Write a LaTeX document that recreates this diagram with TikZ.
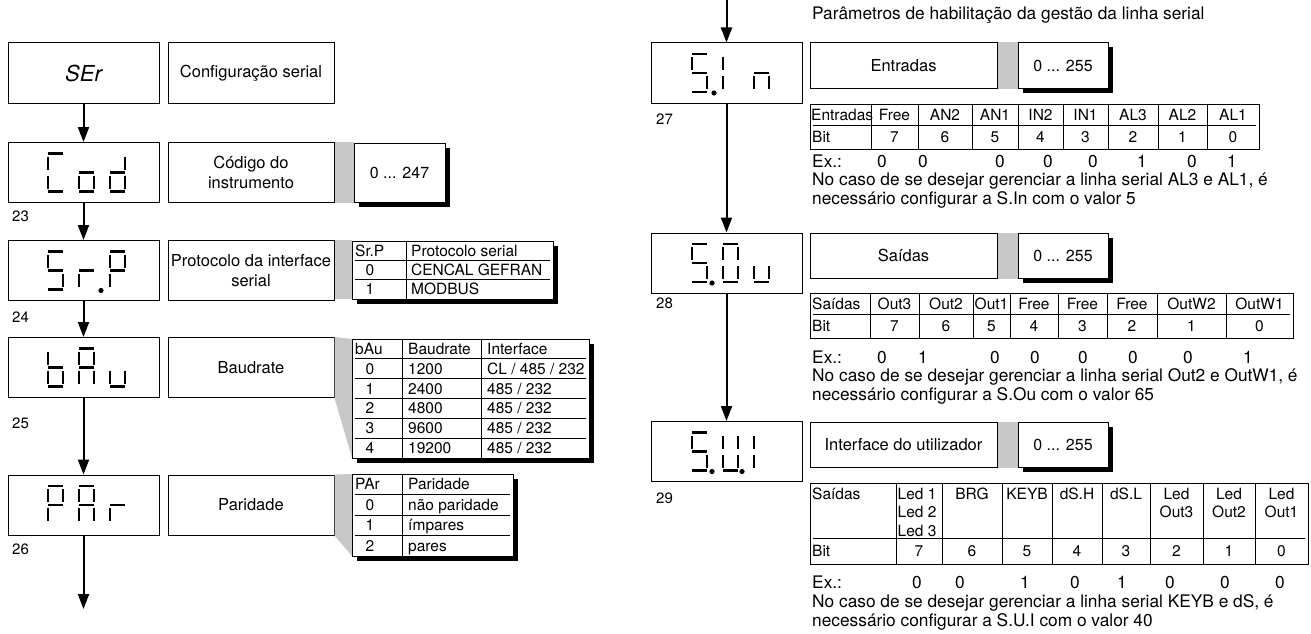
\documentclass[tikz,border=0pt]{standalone}
\usepackage{fontspec}
\setmainfont{TeX Gyre Heros}
\usetikzlibrary{arrows.meta, positioning, shadows}
\definecolor{linkgray}{HTML}{C8C8C8}
\newcommand{\basefont}{\fontsize{15.5}{19}\selectfont}
\newcommand{\descfont}{\fontsize{16.5}{20}\selectfont}
\newcommand{\notefont}{\fontsize{17.3}{20}\selectfont}
\newcommand{\serfont}{\fontsize{22}{26}\selectfont\itshape}
% seven segment display, origin = top left of the digit
\newcommand{\segA}[2]{\draw[seg] (#1,#2) -- (#1+15,#2);}
\newcommand{\segB}[2]{\draw[seg] (#1+15,#2+3) -- (#1+15,#2+16);}
\newcommand{\segC}[2]{\draw[seg] (#1+15,#2+22) -- (#1+15,#2+35);}
\newcommand{\segD}[2]{\draw[seg] (#1,#2+38) -- (#1+15,#2+38);}
\newcommand{\segE}[2]{\draw[seg] (#1,#2+22) -- (#1,#2+35);}
\newcommand{\segF}[2]{\draw[seg] (#1,#2+3) -- (#1,#2+16);}
\newcommand{\segG}[2]{\draw[seg] (#1,#2+19) -- (#1+15,#2+19);}
\newcommand{\segDot}[2]{\fill (#1+22,#2+39) circle[radius=2.6pt];}
\newcommand{\glyph}[3]{\foreach \s in {#3}{\csname seg\s\endcsname{#1}{#2}}}
\tikzset{
  disp/.style={rectangle, draw, line width=1pt, minimum width=151pt, minimum height=60pt, inner sep=0pt},
  desc/.style={rectangle, draw, line width=1pt, align=center, font=\descfont, minimum width=166pt, minimum height=60pt, inner sep=2pt},
  rdesc/.style={desc, minimum width=187pt, minimum height=45pt},
  tabshadow/.style={drop shadow={shadow xshift=4.5pt, shadow yshift=-4.5pt, opacity=1, fill=black}},
  valbox/.style={rectangle, draw, fill=white, line width=1pt, font=\fontsize{16}{19}\selectfont, minimum width=91pt, minimum height=59pt, tabshadow},
  rval/.style={valbox, minimum width=90pt, minimum height=45pt},
  txt/.style={inner sep=0pt, font=\basefont, text height=11.5pt, text depth=0.5pt},
  note/.style={txt, anchor=west, font=\notefont},
  hcell/.style={inner sep=0pt, font=\fontsize{15.5}{18.5}\selectfont, align=center, anchor=north},
  num/.style={txt, anchor=west, font=\fontsize{15}{18}\selectfont},
  tabline/.style={line width=0.9pt},
  link/.style={fill=linkgray},
  flow/.style={line width=2pt, -{Triangle[length=15pt, width=11pt]}},
  seg/.style={line width=2.6pt},
}
\begin{document}
\begin{tikzpicture}[x=1pt, y=-1pt]
\useasboundingbox (0,0) rectangle (1311,634);

% ---- left column
\node[disp, font=\serfont] (ser) at (83.5,73) {SEr};
\node[desc, right=8pt of ser] (serdesc) {Configuração serial};

\node[disp] (cod) at (83.5,172.5) {};
\glyph{48}{153.5}{A,F,E,D}
\glyph{79}{153.5}{G,E,C,D}
\glyph{110}{153.5}{B,G,E,C,D}
\node[desc, right=8pt of cod] (coddesc) {Código do\\instrumento};
\node[valbox, right=19pt of coddesc] (codval) {0 ... 247};
\fill[link] (coddesc.north east) rectangle (codval.south west);
\node[num] (l23) at (12,216) {23};

\node[disp] (srp) at (83.5,270.5) {};
\glyph{48}{251.5}{A,F,G,C,D}
\glyph{79}{251.5}{G,E}
\segDot{79}{251.5}
\glyph{110}{251.5}{A,B,F,G,E}
\node[desc, right=8pt of srp] (srpdesc) {Protocolo da interface\\serial};
\node[num] (l24) at (12,317) {24};
\fill[link] (srpdesc.north east) rectangle (352,299);
\draw[tabline, fill=white, tabshadow] (352,241) rectangle (553,299);
\draw[tabline] (406,241) -- (406,299);
\foreach \y in {260.3,279.7} \draw[tabline] (355,\y) -- (550,\y);
\node[txt, anchor=west] (srp-h1) at (355,250.7) {Sr.P};
\node[txt, anchor=west] (srp-h2) at (411,250.7) {Protocolo serial};
\foreach \a/\b/\y in {0/CENCAL GEFRAN/270, 1/MODBUS/289.3}{
  \node[txt] (srp-a\a) at (370,\y) {\a};
  \node[txt, anchor=west] (srp-b\a) at (411,\y) {\b};
}

\node[disp] (bau) at (83.5,367.5) {};
\glyph{48}{348.5}{F,E,G,C,D}
\glyph{79}{348.5}{A,B,C,E,F,G}
\glyph{110}{348.5}{C,D,E}
\node[desc, right=8pt of bau] (baudesc) {Baudrate};
\node[num] (l25) at (12,423) {25};
\coordinate (bautab) at (352,339);
\coordinate (bautabs) at (352,458);
\fill[link] (baudesc.north east) -- (bautab) -- (bautabs) -- (baudesc.south east) -- cycle;
\draw[tabline, fill=white, tabshadow] (bautab) rectangle (589,458);
\foreach \x in {402,481} \draw[tabline] (\x,339) -- (\x,458);
\foreach \y in {358.8,378.6,398.4,418.2,438} \draw[tabline] (355,\y) -- (586,\y);
\node[txt, anchor=west] (bau-h1) at (355,348.9) {bAu};
\node[txt, anchor=west] (bau-h2) at (408,348.9) {Baudrate};
\node[txt, anchor=west] (bau-h3) at (487,348.9) {Interface};
\foreach \r/\y in {0/368.7,1/388.5,2/408.3,3/428.1,4/447.9} \node[txt] (bau-a\r) at (370,\y) {\r};
\foreach \v [count=\i] in {1200,2400,4800,9600,19200} \node[txt, anchor=west] (bau-b\i) at (408,348.9+19.8*\i) {\v};
\foreach \v [count=\i] in {CL / 485 / 232,485 / 232,485 / 232,485 / 232,485 / 232} \node[txt, anchor=west] (bau-c\i) at (487,348.9+19.8*\i) {\v};

\node[disp] (par) at (83.5,505) {};
\glyph{48}{486}{A,B,F,G,E}
\glyph{79}{486}{A,B,C,E,F,G}
\glyph{110}{486}{G,E}
\node[desc, right=8pt of par] (pardesc) {Paridade};
\node[num] (l26) at (12,549) {26};
\coordinate (partab) at (352,474);
\coordinate (partabs) at (352,556);
\fill[link] (pardesc.north east) -- (partab) -- (partabs) -- (pardesc.south east) -- cycle;
\draw[tabline, fill=white, tabshadow] (partab) rectangle (513,556);
\draw[tabline] (402,474) -- (402,556);
\foreach \y in {494.5,515,535.5} \draw[tabline] (355,\y) -- (510,\y);
\node[txt, anchor=west] (par-h1) at (355,484.2) {PAr};
\node[txt, anchor=west] (par-h2) at (408,484.2) {Paridade};
\foreach \a/\b/\y in {0/não paridade/504.7, 1/ímpares/525.2, 2/pares/545.7}{
  \node[txt] (par-a\a) at (370,\y) {\a};
  \node[txt, anchor=west] (par-b\a) at (408,\y) {\b};
}

\coordinate (leftend) at (83.5,609);
\draw[flow] (ser) -- (cod);
\draw[flow] (cod) -- (srp);
\draw[flow] (srp) -- (bau);
\draw[flow] (bau) -- (par);
\draw[flow] (par) -- (leftend);

% ---- right column
\node[note] (title) at (812,14) {Parâmetros de habilitação da gestão da linha serial};

\node[disp] (sin) at (726.5,73) {};
\glyph{692}{54}{A,F,G,C,D}
\segDot{692}{54}
\glyph{723}{54}{F,E}
\glyph{754}{54}{G,E,C}
\node[rdesc] (sindesc) at (903.5,65.5) {Entradas};
\node[rval] (sinval) at (1063,65.5) {0 ... 255};
\fill[link] (sindesc.north east) rectangle (sinval.south west);
\node[num] (l27) at (656,119) {27};
\draw[tabline] (810,104) rectangle (1259,149);
\foreach \x in {871,918,972,1018,1063,1108,1158,1207} \draw[tabline] (\x,104) -- (\x,149);
\draw[tabline] (813,125) -- (1256,125);
\node[txt, anchor=west] (sin-head) at (811,114.5) {Entradas};
\node[txt, anchor=west] (sin-bit) at (812,137) {Bit};
\foreach \xa/\xb/\h/\b in {871/918/Free/7, 918/972/AN2/6, 972/1018/AN1/5, 1018/1063/IN2/4, 1063/1108/IN1/3, 1108/1158/AL3/2, 1158/1207/AL2/1, 1207/1259/AL1/0}{
  \node[txt] (sin-h\b) at ({(\xa+\xb)/2},114.5) {\h};
  \node[txt] (sin-b\b) at ({(\xa+\xb)/2},137) {\b};
}
\node[note] (sin-ex) at (812,162) {Ex.:};
\foreach \x/\v [count=\i] in {882/0, 923/0, 1000/0, 1048/0, 1093/0, 1142/1, 1192/0, 1232/1} \node[txt, font=\notefont] (sin-v\i) at (\x,162) {\v};
\node[note] (sin-n1) at (812,180) {No caso de se desejar gerenciar a linha serial AL3 e AL1, é};
\node[note] (sin-n2) at (812,198.5) {necessário configurar a S.In com o valor 5};

\node[disp] (sou) at (726.5,263) {};
\glyph{692}{244}{A,F,G,C,D}
\segDot{690}{244}
\glyph{723}{244}{A,B,C,D,E,F}
\glyph{754}{244}{C,D,E}
\node[rdesc] (soudesc) at (903.5,255.5) {Saídas};
\node[rval] (souval) at (1063,255.5) {0 ... 255};
\fill[link] (soudesc.north east) rectangle (souval.south west);
\node[num] (l28) at (656,303) {28};
\draw[tabline] (810,293) rectangle (1293,338);
\foreach \x in {870,919,973,1010,1058,1107,1157,1226} \draw[tabline] (\x,293) -- (\x,338);
\draw[tabline] (813,314) -- (1290,314);
\node[txt, anchor=west] (sou-head) at (812,303.5) {Saídas};
\node[txt, anchor=west] (sou-bit) at (812,326) {Bit};
\foreach \xa/\xb/\h/\b in {870/919/Out3/7, 919/973/Out2/6, 973/1010/Out1/5, 1010/1058/Free/4, 1058/1107/Free/3, 1107/1157/Free/2, 1157/1226/OutW2/1, 1226/1293/OutW1/0}{
  \node[txt] (sou-h\b) at ({(\xa+\xb)/2},303.5) {\h};
  \node[txt] (sou-b\b) at ({(\xa+\xb)/2},326) {\b};
}
\node[note] (sou-ex) at (812,358) {Ex.:};
\foreach \x/\v [count=\i] in {882/0, 923/1, 995/0, 1035/0, 1083/0, 1133/0, 1188/0, 1248/1} \node[txt, font=\notefont] (sou-v\i) at (\x,358) {\v};
\node[note] (sou-n1) at (812,376) {No caso de se desejar gerenciar a linha serial Out2 e OutW1, é};
\node[note] (sou-n2) at (812,394.5) {necessário configurar a S.Ou com o valor 65};

\node[disp] (sui) at (726.5,451.5) {};
\glyph{692}{432.5}{A,F,G,C,D}
\segDot{690}{432.5}
\glyph{723}{432.5}{B,C,D,E,F}
\segDot{720}{432.5}
\glyph{754}{432.5}{F,E}
\node[rdesc] (suidesc) at (903.5,444.5) {Interface do utilizador};
\node[rval] (suival) at (1063,444.5) {0 ... 255};
\fill[link] (suidesc.north east) rectangle (suival.south west);
\node[num] (l29) at (656,498) {29};
\draw[tabline] (810,483) rectangle (1308,564);
\foreach \x in {896,942,1002,1052,1102,1150,1203,1255} \draw[tabline] (\x,483) -- (\x,564);
\draw[tabline] (813,538) -- (1305,538);
\node[hcell, anchor=north west] (sui-head) at (812,487.5) {Saídas};
\node[hcell, anchor=north west, align=left] (sui-led) at (897.5,487.5) {Led 1\\Led 2\\Led 3};
\foreach \xa/\xb/\h/\n in {942/1002/BRG/6, 1002/1052/KEYB/5, 1052/1102/dS.H/4, 1102/1150/dS.L/3, 1150/1203/Led\\Out3/2, 1203/1255/Led\\Out2/1, 1255/1308/Led\\Out1/0}
  \node[hcell] (sui-h\n) at ({(\xa+\xb)/2},487.5) {\h};
\node[txt, anchor=west] (sui-bit) at (812,551) {Bit};
\foreach \xa/\xb/\b in {896/942/7, 942/1002/6, 1002/1052/5, 1052/1102/4, 1102/1150/3, 1150/1203/2, 1203/1255/1, 1255/1308/0}
  \node[txt] (sui-b\b) at ({(\xa+\xb)/2},551) {\b};
\node[note] (sui-ex) at (812,583) {Ex.:};
\foreach \x/\v [count=\i] in {917/0, 960/0, 1025/1, 1075/0, 1122/1, 1170/0, 1225/0, 1280/0} \node[txt, font=\notefont] (sui-v\i) at (\x,583) {\v};
\node[note] (sui-n1) at (812,602) {No caso de se desejar gerenciar a linha serial KEYB e dS, é};
\node[note] (sui-n2) at (812,620.5) {necessário configurar a S.U.I com o valor 40};

\coordinate (rightstart) at (726.5,0);
\draw[flow] (rightstart) -- (sin);
\draw[flow] (sin) -- (sou);
\draw[flow] (sou) -- (sui);
\end{tikzpicture}
\end{document}
